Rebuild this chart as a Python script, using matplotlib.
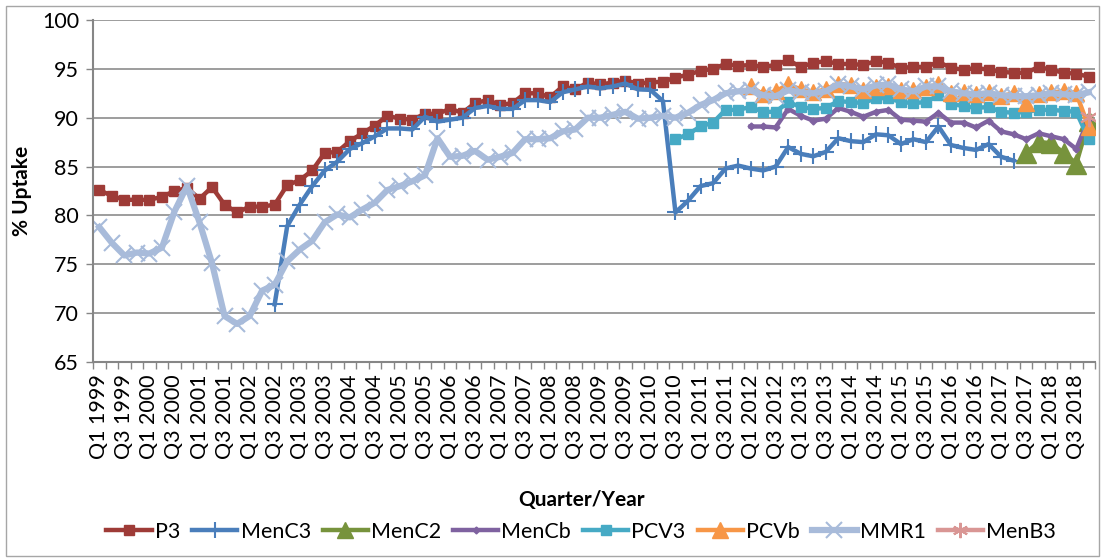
import numpy as np
import matplotlib.pyplot as plt
from matplotlib.lines import Line2D
from matplotlib.patches import Rectangle

plt.rcParams['font.family'] = ['Lato', 'DejaVu Sans']

# quarters Q1 1999 .. Q4 2018
quarters = [f"Q{q} {y}" for y in range(1999, 2019) for q in (1, 2, 3, 4)]
nan = np.nan

p3 = [82.6, 82.0, 81.6, 81.6, 81.6, 81.9, 82.5, 82.8, 81.7, 82.9,
      81.1, 80.3, 80.9, 80.9, 81.1, 83.1, 83.6, 84.6, 86.4, 86.5,
      87.6, 88.4, 89.2, 90.2, 89.9, 89.8, 90.4, 90.4, 90.9, 90.5,
      91.5, 91.8, 91.3, 91.5, 92.5, 92.5, 92.1, 93.2, 92.9, 93.6,
      93.4, 93.6, 93.8, 93.5, 93.6, 93.7, 94.1, 94.4, 94.8, 95.0,
      95.5, 95.3, 95.4, 95.2, 95.4, 95.9, 95.2, 95.6, 95.8, 95.5,
      95.5, 95.4, 95.8, 95.6, 95.1, 95.2, 95.2, 95.7, 95.1, 94.9,
      95.1, 94.9, 94.7, 94.6, 94.6, 95.2, 94.9, 94.6, 94.5, 94.2]

menc3 = [nan] * 14 + [
    70.9, 78.9, 81.1, 83.0, 84.6, 85.5, 86.8, 87.4, 88.1, 88.9,
    88.9, 88.8, 90.1, 89.6, 89.8, 90.0, 91.0, 91.2, 90.9, 90.9,
    91.8, 91.8, 91.6, 92.6, 92.9, 93.2, 93.0, 93.2, 93.5, 92.9,
    92.85, 91.7, 80.3, 81.5, 83.0, 83.3, 84.8, 85.1, 84.8, 84.6,
    85.0, 87.0, 86.3, 86.05, 86.5, 87.9, 87.6, 87.5, 88.3, 88.2,
    87.3, 87.8, 87.5, 89.1, 87.2, 86.9, 86.7, 87.3, 86.0, 85.6] + [nan] * 6

menc2 = [nan] * 74 + [86.4, 87.5, 87.4, 86.4, 85.3, 89.7]

mencb = [nan] * 52 + [
    89.1, 89.1, 89.0, 90.9, 90.2, 89.7, 89.9, 91.0, 90.6, 90.1,
    90.6, 90.8, 89.8, 89.7, 89.6, 90.5, 89.5, 89.5, 89.0, 89.7,
    88.6, 88.3, 87.8, 88.4, 88.1, 87.8, 86.8, 89.9]

pcv3 = [nan] * 46 + [
    87.8, 88.3, 89.1, 89.5, 90.8, 90.8, 91.1, 90.6, 90.6, 91.6,
    91.1, 90.9, 91.0, 91.7, 91.6, 91.5, 92.0, 92.0, 91.6, 91.5,
    91.6, 92.3, 91.4, 91.2, 91.0, 91.1, 90.6, 90.5, 90.6, 90.8,
    90.8, 90.7, 90.6, 87.8]

pcvb = [nan] * 52 + [
    93.2, 92.4, 92.7, 93.4, 92.9, 92.6, 92.9, 93.5, 93.3, 92.8,
    93.1, 93.2, 92.8, 92.8, 93.1, 93.4, 92.5, 92.6, 92.4, 92.6,
    92.2, 92.5, 91.5, 92.4, 92.6, 92.7, 92.5, 89.0]

mmr1 = [78.8, 77.2, 75.9, 76.2, 76.1, 76.7, 80.4, 83.0, 79.3, 75.1,
        69.7, 68.9, 69.7, 72.3, 72.9, 75.3, 76.5, 77.4, 79.3, 80.1,
        79.8, 80.6, 81.3, 82.6, 83.0, 83.5, 84.1, 87.9, 86.0, 86.1,
        86.6, 85.7, 86.0, 86.4, 87.8, 87.8, 87.9, 88.6, 88.8, 90.0,
        90.0, 90.3, 90.6, 89.9, 90.0, 90.2, 90.0, 90.5, 91.3, 91.8,
        92.5, 92.7, 92.8, 92.3, 92.2, 92.8, 92.6, 92.5, 92.7, 93.4,
        93.2, 92.9, 93.3, 93.4, 92.9, 92.7, 93.2, 93.2, 92.7, 92.5,
        92.4, 92.5, 92.3, 92.2, 92.2, 92.3, 92.5, 92.4, 92.3, 92.6]

menb3 = [nan] * 79 + [90.1]

x = np.arange(len(quarters))

fig = plt.figure(figsize=(11.05, 5.6), dpi=100)
ax = fig.add_axes([0.0842, 0.3536, 0.9068, 0.6107])

# series: (data, label, color, marker, markersize, linewidth, mew)
series = [
    (p3, "P3", "#9E3B37", "s", 6.5, 3.2, 1),
    (menc3, "MenC3", "#4A7EBB", "+", 12, 3.2, 1.5),
    (menc2, "MenC2", "#77933C", "^", 14, 3.2, 1),
    (mencb, "MenCb", "#7F62A0", "D", 3.5, 3.2, 1),
    (pcv3, "PCV3", "#46AAC5", "s", 6.5, 3.2, 1),
    (pcvb, "PCVb", "#F79646", "^", 11, 3.2, 1),
    (mmr1, "MMR1", "#A8BBDA", "x", 11, 4.5, 1.5),
    (menb3, "MenB3", "#D99694", (6, 2, 0), 14, 3.2, 1.5),
]

handles = []
for data, label, color, marker, ms, lw, mew in series:
    ax.plot(x, data, color=color, lw=lw, marker=marker, markersize=ms,
            markeredgewidth=mew, markeredgecolor=color, markerfacecolor=color)
    handles.append(Line2D([0], [0], color=color, lw=lw, marker=marker,
                          markersize=min(ms, 11), markeredgewidth=mew,
                          markeredgecolor=color, markerfacecolor=color))

ax.set_xlim(-0.5, len(quarters) - 0.5)
ax.set_ylim(65, 100)
ax.set_yticks(np.arange(65, 101, 5))
ax.yaxis.grid(True, color="#8C8C8C", lw=1.2)
ax.set_axisbelow(True)

ax.set_xticks(x[::2])
ax.set_xticklabels(quarters[::2], rotation=90)
ax.set_xticks(np.arange(-0.5, len(quarters), 1), minor=True)
ax.tick_params(axis="x", which="major", length=0, pad=9, labelsize=15.5)
ax.tick_params(axis="x", which="minor", length=5, width=1, color="#868686", direction="out")
ax.tick_params(axis="y", length=5, width=1, color="#868686", labelsize=15.5, pad=5)

for s in ["top", "right"]:
    ax.spines[s].set_visible(False)
for s in ["left", "bottom"]:
    ax.spines[s].set_color("#868686")
    ax.spines[s].set_linewidth(1.5)

fig.text(0.02, 0.66, "% Uptake", rotation=90, ha="center", va="center",
         fontsize=15, fontweight="bold")
fig.text(0.526, 0.107, "Quarter/Year", ha="center", va="center",
         fontsize=15, fontweight="bold")

fig.legend(handles, [s[1] for s in series], loc="center", bbox_to_anchor=(0.526, 0.05),
           ncol=8, frameon=False, fontsize=15.5, handlelength=2.1,
           handletextpad=0.15, columnspacing=0.55)

fig.patches.append(Rectangle((0.005, 0.008), 0.99, 0.982, transform=fig.transFigure,
                             fill=False, edgecolor="#A6A6A6", lw=1))

fig.savefig("out.png", dpi=100)
